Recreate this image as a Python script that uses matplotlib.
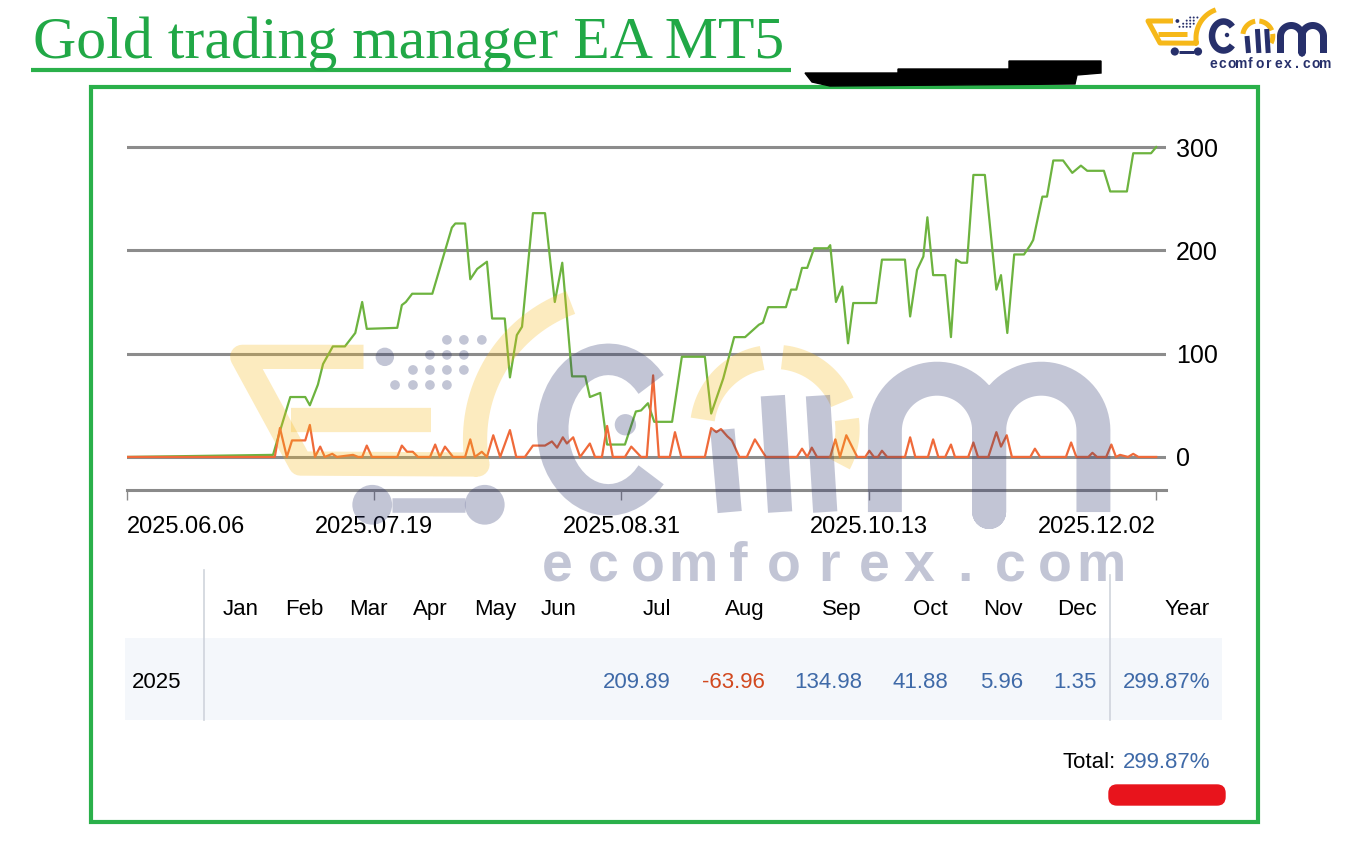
import numpy as np
import matplotlib
matplotlib.use("Agg")
import matplotlib.pyplot as plt
from matplotlib.patches import Rectangle, Polygon, FancyBboxPatch, Circle

# ---- data (x = days since 2025.06.06) ----
green_day = [0, 25.4, 26.6, 28.4, 31.0, 31.8, 33.2, 34.1, 35.8, 37.9, 39.7, 40.9, 41.7,
             47.0, 47.8, 48.5, 49.6, 53.1, 56.5, 57.1, 58.8, 59.7, 60.9, 62.6, 63.5,
             65.7, 66.6, 67.8, 68.7, 70.6, 72.7, 74.4, 75.7, 77.4, 79.7, 80.5, 82.3,
             83.5, 86.6, 88.5, 89.4, 90.6, 91.7, 94.8, 96.5, 100.5, 101.6, 103.7,
             105.6, 107.5, 109.9, 110.6, 111.5, 114.6, 115.5, 116.4, 117.4, 118.3,
             119.5, 121.9, 122.3, 123.3, 124.4, 125.4, 126.3, 130.3, 131.3, 135.3,
             136.2, 137.4, 138.5, 139.2, 140.2, 142.3, 143.3, 144.2, 145.1, 146.1,
             147.2, 149.2, 151.2, 152.0, 153.1, 154.3, 156.0, 157.1, 157.6, 159.2,
             160.0, 161.1, 162.8, 164.4, 165.9, 167.0, 169.9, 171.0, 173.9, 175.0,
             178.1, 179.0]
green_val = [0, 2, 25, 58, 58, 50, 70, 90, 107, 107, 120, 150, 124,
             125, 147, 150, 158, 158, 222, 226, 226, 172, 182, 189, 134,
             134, 77, 118, 126, 236, 236, 150, 188, 78, 78, 58, 62,
             12, 12, 44, 45, 52, 34, 34, 97, 97, 42, 76,
             116, 116, 128, 130, 145, 145, 162, 162, 183, 183,
             202, 202, 205, 150, 165, 110, 149, 149, 191, 191,
             136, 181, 194, 232, 176, 176, 116, 191, 188, 188,
             273, 273, 162, 176, 120, 196, 196, 205, 210, 252,
             252, 287, 287, 275, 282, 277, 277, 257, 257, 294,
             294, 300]

orange_day = [0, 25.7, 26.6, 27.8, 28.7, 31.0, 31.8, 32.7, 33.6, 34.4, 35.7, 36.5,
              39.3, 40.2, 40.9, 41.7, 42.6, 47.0, 47.8, 48.7, 49.7, 50.6, 52.7,
              53.6, 54.4, 55.3, 56.7, 58.8, 59.7, 60.5, 61.7, 62.6, 63.7, 64.9,
              66.6, 67.7, 69.2, 70.6, 72.7, 73.9, 74.8, 75.8, 76.5, 77.6, 78.8,
              80.5, 81.4, 82.6, 83.5, 84.5, 86.6, 87.7, 89.4, 90.4, 91.5, 92.5,
              94.4, 95.3, 96.4, 100.5, 101.6, 102.5, 103.3, 104.4, 105.2, 106.5,
              107.8, 109.2, 111.1, 116.5, 117.4, 118.3, 119.1, 120.0, 122.3,
              123.2, 124.0, 125.1, 127.0, 128.4, 129.1, 129.9, 130.6, 131.3,
              132.2, 135.3, 136.2, 137.1, 139.3, 140.2, 141.1, 142.3, 143.3,
              144.0, 146.3, 147.2, 148.0, 149.8, 151.2, 152.0, 153.0, 153.9,
              157.1, 157.9, 158.8, 163.3, 164.2, 165.1, 167.2, 167.9, 168.7,
              170.3, 171.2, 172.0, 172.7, 174.1, 175.0, 175.9, 179.0]
orange_val = [0, 0, 28, 0, 16, 16, 31, 0, 10, 0, 3, 0,
              2, 0, 0, 11, 0, 0, 11, 5, 5, 0, 0,
              12, 0, 10, 0, 0, 17, 0, 5, 0, 21, 0,
              26, 0, 0, 11, 11, 15, 9, 19, 13, 19, 0,
              13, 0, 0, 30, 0, 0, 10, 0, 0, 79, 0,
              0, 24, 0, 0, 28, 24, 27, 20, 16, 0,
              0, 17, 0, 0, 8, 0, 9, 0, 0,
              17, 0, 21, 0, 0, 6, 0, 0, 6,
              0, 0, 19, 0, 0, 17, 0, 0, 12,
              0, 0, 14, 0, 0, 24, 10, 21, 0,
              0, 8, 0, 0, 14, 0, 0, 4, 0,
              0, 12, 0, 2, 0, 3, 0, 0]

tick_days = [0, 43, 86, 129, 179]
tick_labels = ["2025.06.06", "2025.07.19", "2025.08.31", "2025.10.13", "2025.12.02"]
y_ticks = [0, 100, 200, 300]

months = ["Jan", "Feb", "Mar", "Apr", "May", "Jun",
          "Jul", "Aug", "Sep", "Oct", "Nov", "Dec"]
month_vals = [None, None, None, None, None, None,
              209.89, -63.96, 134.98, 41.88, 5.96, 1.35]
year = "2025"
year_total = 299.87
grand_total = 299.87

title = "Gold trading manager EA MT5"

SANS = ["Liberation Sans Narrow", "Liberation Sans", "DejaVu Sans"]
GREEN = "#2ab04a"
BLUE = "#3f6aa8"
RED = "#d2491f"
NAVY = "#27306b"
YELLOW = "#f6b819"

fig = plt.figure(figsize=(13.46, 8.68), dpi=100)

# background layer in pixel coordinates
bg = fig.add_axes([0, 0, 1, 1])
bg.set_xlim(0, 1346)
bg.set_ylim(868, 0)
bg.axis("off")

bg.text(33, 58, title, fontsize=43, family="Liberation Serif", color="#21a846",
        va="baseline", ha="left")
bg.plot([31, 791], [70, 70], color=GREEN, lw=3, solid_capstyle="butt")
bg.add_patch(Rectangle((91, 87), 1167, 735, fill=False, ec=GREEN, lw=3))

# redaction scribble and red underline
bg.add_patch(Polygon([(805, 73), (898, 73), (898, 69), (1009, 69), (1009, 61),
                      (1101, 61), (1101, 73), (1077, 75), (1075, 84), (830, 86),
                      (812, 82)], closed=True, color="black"))
bg.add_patch(FancyBboxPatch((1112, 788), 110, 14, boxstyle="round,pad=3,rounding_size=8",
                            color="#e8141c"))

# table
bg.add_patch(Rectangle((125, 638), 1097, 82, color="#f4f7fb", lw=0))
bg.plot([204, 204], [570, 720], color="#cfd4dc", lw=1.2)
bg.plot([1110, 1110], [575, 720], color="#cfd4dc", lw=1.2)
left_centers = [241, 304, 368, 430, 495, 559]
right_edges = [671, 765, 862, 948, 1023, 1097]
HEAD_Y, ROW_Y, TOT_Y = 615, 688, 768
for i, m in enumerate(months):
    if i < 6:
        bg.text(left_centers[i], HEAD_Y, m, ha="center", va="baseline", fontsize=16, family=SANS)
    else:
        bg.text(right_edges[i - 6], HEAD_Y, m, ha="right", va="baseline", fontsize=16, family=SANS)
    v = month_vals[i]
    if v is not None:
        bg.text(right_edges[i - 6], ROW_Y, f"{v:.2f}", ha="right", va="baseline", fontsize=16,
                family=SANS, color=RED if v < 0 else BLUE)
bg.text(1210, HEAD_Y, "Year", ha="right", va="baseline", fontsize=16, family=SANS)
bg.text(157, ROW_Y, year, ha="center", va="baseline", fontsize=16, family=SANS)
bg.text(1210, ROW_Y, f"{year_total:.2f}%", ha="right", va="baseline", fontsize=16,
        family=SANS, color=BLUE)
bg.text(1116, TOT_Y, "Total:", ha="right", va="baseline", fontsize=16, family=SANS)
bg.text(1210, TOT_Y, f"{grand_total:.2f}%", ha="right", va="baseline", fontsize=16,
        family=SANS, color=BLUE)

# ---- the growth chart ----
ax = fig.add_axes([127 / 1346, (868 - 490) / 868, (1166 - 127) / 1346, (490 - 130) / 868])
ax.patch.set_alpha(0)
ax.plot(green_day, green_val, color="#6db33f", lw=1.6)
ax.plot(orange_day, orange_val, color="#ef6a3a", lw=1.6)
ax.set_xlim(0, 180.7)
ax.set_ylim(-32, 316.5)
for s in ["top", "left", "right"]:
    ax.spines[s].set_visible(False)
ax.spines["bottom"].set_color("#8a8a8a")
ax.spines["bottom"].set_linewidth(2.2)
ax.yaxis.tick_right()
ax.set_yticks(y_ticks)
ax.grid(axis="y", color="#8c8c8c", lw=2.2)
ax.tick_params(axis="y", length=0, pad=7, labelsize=18)
ax.set_xticks(tick_days)
ax.set_xticklabels(tick_labels)
ax.tick_params(axis="x", length=7, width=1, color="#8a8a8a", pad=12, labelsize=17)
for lab in ax.get_xticklabels() + ax.get_yticklabels():
    lab.set_family(SANS)
ax.get_xticklabels()[0].set_ha("left")
ax.get_xticklabels()[-1].set_ha("right")


# ---- ecomforex logo (small one top right, big faint one as watermark) ----
def draw_logo(a, ox, oy, s, alpha, text_size, text_v):
    def xs(pts):
        return [ox + u * s for u, v in pts]

    def ys(pts):
        return [oy + v * s for u, v in pts]

    def arc(cu, cv, ru, rv, a0, a1, n=40):
        t = np.radians(np.linspace(a0, a1, n))
        return list(zip(cu + ru * np.cos(t), cv - rv * np.sin(t)))

    def stroke(pts, width, color, cap="butt"):
        a.plot(xs(pts), ys(pts), color=color, lw=width * s * 0.72, alpha=alpha,
               solid_capstyle=cap, solid_joinstyle="round")

    # yellow cart
    cart = [(30, 21), (5, 21), (17, 43), (53.5, 43.2)] + arc(83, 38, 30, 30, 190, 110)
    stroke(cart, 5, YELLOW)
    stroke([(15, 34), (44, 34)], 5, YELLOW)
    # dots
    dots = [(47.2, 17.5), (50.7, 17.5), (54.4, 17.5), (43.7, 20.6), (47.2, 20.6),
            (50.7, 20.6), (40.2, 23.7), (43.7, 23.7), (47.2, 23.7), (50.7, 23.7),
            (36.5, 26.8), (40.2, 26.8), (43.7, 26.8), (47.2, 26.8)]
    for u, v in dots:
        a.add_patch(Circle((ox + u * s, oy + v * s), 1.0 * s, color=NAVY, alpha=alpha, lw=0))
    a.add_patch(Circle((ox + 34.4 * s, oy + 21 * s), 1.9 * s, color=NAVY, alpha=alpha, lw=0))
    # wheels
    for u in (31.8, 55):
        a.add_patch(Circle((ox + u * s, oy + 51.5 * s), 4.1 * s, color=NAVY, alpha=alpha, lw=0))
    stroke([(35.9, 51.5), (50.9, 51.5)], 3, NAVY)
    # "e"
    stroke(arc(80.5, 36, 11.5, 14.5, 40, 320), 6.5, NAVY)
    a.add_patch(Circle((ox + 84 * s, oy + 35 * s), 2.2 * s, color=NAVY, alpha=alpha, lw=0))
    # yellow ring with bars
    for a0, a1 in [(100, 172), (22, 84), (-28, 8)]:
        stroke(arc(114.8, 36, 15, 15, a0, a1), 5, YELLOW)
    for u, v0 in [(104, 36), (114.4, 29), (123.7, 29)]:
        stroke([(u, v0), (u + 1.5, 53)], 5, NAVY)
    # "m"
    m_path = ([(137.5, 53), (137.5, 36.25)] + arc(148.25, 36.25, 10.75, 10.75, 180, 0)
              + [(159, 53)] + arc(169.75, 36.25, 10.75, 10.75, 180, 0) + [(180.5, 53)])
    stroke(m_path, 7, NAVY)
    # ecomforex.com
    for i, ch in enumerate("ecomforex.com"):
        a.text(ox + (70 + i * 9.33) * s, oy + text_v * s, ch, ha="center", va="baseline",
               fontsize=text_size, fontweight="bold", family=SANS, color=NAVY, alpha=alpha)


draw_logo(bg, 1143, 0, 1.0, 1.0, 10, 68.3)

wm = fig.add_axes([0, 0, 1, 1])
wm.set_xlim(0, 1346)
wm.set_ylim(868, 0)
wm.axis("off")
draw_logo(wm, 218, 255, 4.85, 0.28, 40, 67.3)

fig.savefig("out.png", dpi=100)
